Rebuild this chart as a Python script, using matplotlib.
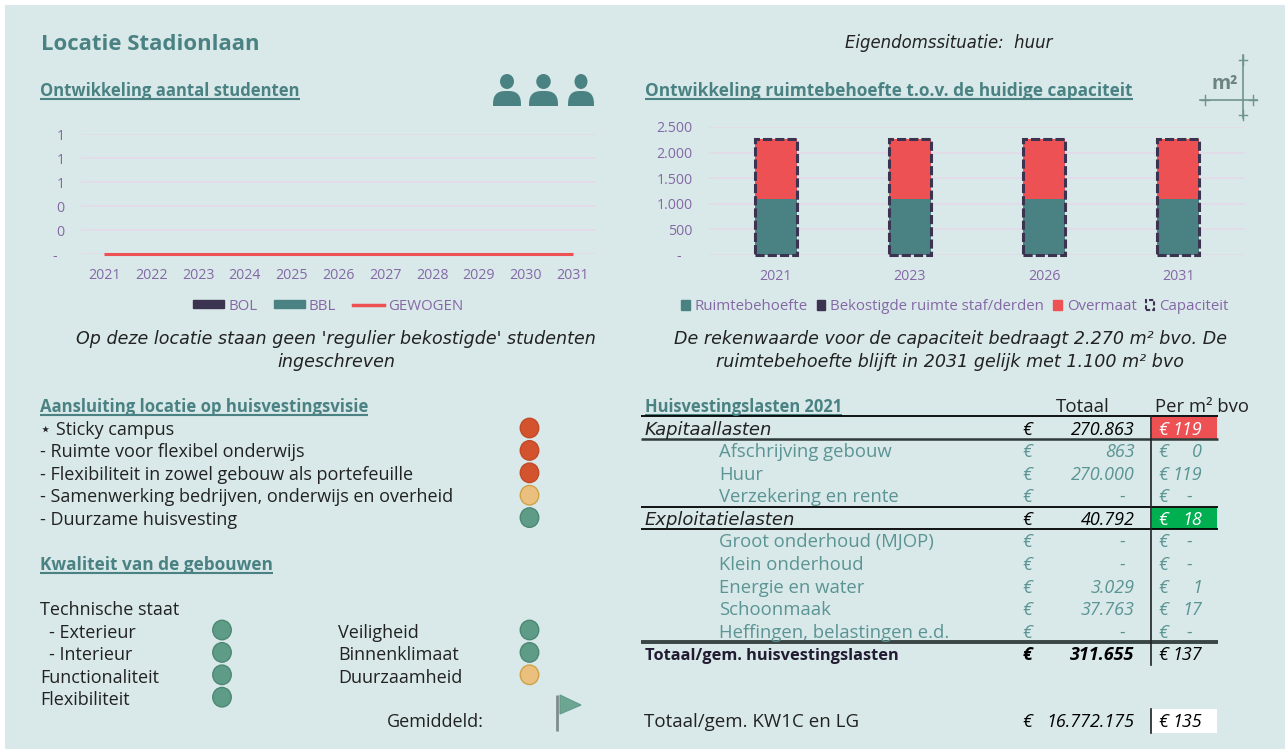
import numpy as np
import matplotlib
matplotlib.use("Agg")
import matplotlib.pyplot as plt
from matplotlib.patches import Rectangle, Ellipse, Polygon, Patch
from matplotlib.lines import Line2D

plt.rcParams['font.family'] = ['Open Sans', 'DejaVu Sans']

# data
jaren = [2021, 2022, 2023, 2024, 2025, 2026, 2027, 2028, 2029, 2030, 2031]
bol = [0, 0, 0, 0, 0, 0, 0, 0, 0, 0, 0]
bbl = [0, 0, 0, 0, 0, 0, 0, 0, 0, 0, 0]
gewogen = [0, 0, 0, 0, 0, 0, 0, 0, 0, 0, 0]
studenten_ticks = [0, 0.2, 0.4, 0.6, 0.8, 1.0]
studenten_labels = ["-  ", "0", "0", "1", "1", "1"]

ruimte_jaren = ["2021", "2023", "2026", "2031"]
ruimtebehoefte = [1100, 1100, 1100, 1100]
bekostigd = [0, 0, 0, 0]
overmaat = [1170, 1170, 1170, 1170]
capaciteit = [2270, 2270, 2270, 2270]
ruimte_ticks = [0, 500, 1000, 1500, 2000, 2500]
ruimte_labels = ["-   ", "500", "1.000", "1.500", "2.000", "2.500"]

visie = ["\u22c6 Sticky campus", "- Ruimte voor flexibel onderwijs",
         "- Flexibiliteit in zowel gebouw als portefeuille",
         "- Samenwerking bedrijven, onderwijs en overheid", "- Duurzame huisvesting"]
visie_score = ["r", "r", "r", "o", "g"]
kwaliteit_links = ["- Exterieur", "- Interieur", "Functionaliteit", "Flexibiliteit"]
kwaliteit_links_score = ["g", "g", "g", "g"]
kwaliteit_rechts = ["Veiligheid", "Binnenklimaat", "Duurzaamheid"]
kwaliteit_rechts_score = ["g", "g", "o"]

lasten_labels = ["Kapitaallasten", "Afschrijving gebouw", "Huur", "Verzekering en rente",
                 "Exploitatielasten", "Groot onderhoud (MJOP)", "Klein onderhoud",
                 "Energie en water", "Schoonmaak", "Heffingen, belastingen e.d.",
                 "Totaal/gem. huisvestingslasten"]
lasten_totaal = ["270.863", "863", "270.000", "-  ", "40.792", "-  ", "-  ", "3.029", "37.763", "-  ", "311.655"]
lasten_m2 = ["119", "0", "119", "-  ", "18", "-  ", "-  ", "1", "17", "-  ", "137"]
lasten_soort = ["kop", "sub", "sub", "sub", "kop", "sub", "sub", "sub", "sub", "sub", "som"]
lasten_y = [429, 451, 474, 496, 519, 541, 564, 587, 609, 632, 654]

TEAL = "#4A8284"
PAARS = "#8468A6"
DONKER = "#3B3350"
ROOD = "#EE5154"
GRID = "#E5DAE9"
SCORE = {"r": ("#D4532F", "#C24A28"), "o": ("#EBC07F", "#CFA245"), "g": ("#5F9C88", "#4C8874")}
ITAL = ['DejaVu Sans']

W, H = 1285, 749
fig = plt.figure(figsize=(W / 100, H / 100), dpi=100, facecolor="white")
bg = fig.add_axes([0, 0, 1, 1])
bg.set_xlim(0, W)
bg.set_ylim(H, 0)
bg.axis("off")
bg.add_patch(Rectangle((5, 5), W - 5, H - 5, fc="#D9E8E8", ec="none"))


def px_axes(x0, y0, x1, y1, ypad):
    ax = fig.add_axes([x0 / W, 1 - y1 / H, (x1 - x0) / W, (y1 - y0) / H])
    ax.patch.set_alpha(0)
    for s in ax.spines.values():
        s.set_visible(False)
    ax.grid(True, axis="y", color=GRID, lw=1.2)
    ax.set_axisbelow(True)
    ax.tick_params(length=0, labelsize=10.2, labelcolor=PAARS)
    ax.tick_params(axis="x", pad=10)
    ax.tick_params(axis="y", pad=ypad)
    return ax


def kop(x, y, s, size=12.1):
    t = bg.text(x, y + 6, s, color=TEAL, fontsize=size, fontweight="bold", va="baseline", ha="left")
    bb = t.get_window_extent(fig.canvas.get_renderer())
    bg.plot([bb.x0, bb.x1], [y + 8.5, y + 8.5], color=TEAL, lw=1.5, solid_capstyle="butt")


def txt(x, y, s, size=13, color="#222222", ha="left", **kw):
    bg.text(x, y + 6, s, fontsize=size, color=color, ha=ha, va="baseline", **kw)


def bol_score(x, y, c):
    fc, ec = SCORE[c]
    bg.add_patch(Ellipse((x, y), 18.5, 19.5, fc=fc, ec=ec, lw=1))


def persoon(x0, x1):
    mid = (x0 + x1) / 2
    bg.add_patch(Ellipse((mid, 81.5), (x1 - x0) * 0.5, 15, fc=TEAL, ec="none"))
    t = np.linspace(0, np.pi, 40)
    px = mid + (x1 - x0) / 2 * np.sign(np.cos(t)) * np.abs(np.cos(t)) ** 0.7
    py = 106 - 15 * np.sin(t) ** 0.7
    bg.add_patch(Polygon(list(zip(px, py)), fc=TEAL, ec="none"))


# koppen
txt(41, 44, "Locatie Stadionlaan", size=15.9, color=TEAL, fontweight="bold")
txt(949, 42, "Eigendomssituatie:  huur", size=11.9, ha="center", style="italic", family=ITAL)
kop(40, 90, "Ontwikkeling aantal studenten", 12)
kop(645, 90, "Ontwikkeling ruimtebehoefte t.o.v. de huidige capaciteit", 12.4)
kop(40, 406, "Aansluiting locatie op huisvestingsvisie")
kop(40, 564, "Kwaliteit van de gebouwen", 12.4)
kop(645, 406, "Huisvestingslasten 2021", 11.9)

for a, b in [(493, 521), (529, 558), (568, 594)]:
    persoon(a, b)

# m2 icoon
ICON = "#71938E"
bg.plot([1242.5, 1242.5], [55, 118], color=ICON, lw=1.2)
bg.plot([1200, 1257], [100, 100], color=ICON, lw=1.2)
for cx, cy in [(1242.5, 60), (1242.5, 115), (1205, 100), (1253, 100)]:
    bg.plot([cx - 4, cx + 4], [cy, cy], color=ICON, lw=1)
    bg.plot([cx, cx], [cy - 5, cy + 5], color=ICON, lw=1)
txt(1225, 83, "m\u00b2", size=14, color="#6C8480", ha="center", fontweight="bold")

# grafiek studenten
ax1 = px_axes(81, 134, 596, 254, 12)
x = np.arange(len(jaren))
ax1.bar(x - 0.2, bol, 0.4, color=DONKER, label="BOL")
ax1.bar(x + 0.2, bbl, 0.4, color=TEAL, label="BBL")
ax1.plot(x, gewogen, color=ROOD, lw=2.2, label="GEWOGEN", clip_on=False, zorder=5, solid_capstyle="butt")
ax1.set_xlim(-0.5, len(jaren) - 0.5)
ax1.set_ylim(0, 1)
ax1.set_yticks(studenten_ticks, studenten_labels)
ax1.set_xticks(x, [str(j) for j in jaren])
h1 = [Patch(color=DONKER), Patch(color=TEAL), Line2D([0], [0], color=ROOD, lw=2.5)]
ax1.legend(h1, ["BOL", "BBL", "GEWOGEN"], ncol=3, frameon=False, fontsize=10.8, labelcolor=PAARS,
           loc="center", bbox_to_anchor=(328 / W, 1 - 306 / H), bbox_transform=fig.transFigure,
           handlelength=2.1, handleheight=0.5, handletextpad=0.25, columnspacing=1.1)

txt(336, 338, "Op deze locatie staan geen 'regulier bekostigde' studenten", size=12.6, ha="center", style="italic", family=ITAL)
txt(336, 361, "ingeschreven", size=12.6, ha="center", style="italic", family=ITAL)

# grafiek ruimte
ax2 = px_axes(709, 127, 1245, 255, 12)
x2 = np.arange(len(ruimte_jaren))
br = 0.32
ax2.bar(x2, ruimtebehoefte, br, color=TEAL)
ax2.bar(x2, bekostigd, br, bottom=ruimtebehoefte, color=DONKER)
ax2.bar(x2, overmaat, br, bottom=np.array(ruimtebehoefte) + np.array(bekostigd), color=ROOD)
ax2.bar(x2, capaciteit, br, fc="none", ec=DONKER, lw=2.2, ls=(0, (3, 1)), clip_on=False)
ax2.set_xlim(-0.5, len(ruimte_jaren) - 0.5)
ax2.set_ylim(0, 2500)
ax2.set_yticks(ruimte_ticks, ruimte_labels)
ax2.set_xticks(x2, ruimte_jaren)
h2 = [Patch(color=TEAL), Patch(color=DONKER), Patch(color=ROOD),
      Patch(fc="none", ec=DONKER, lw=1.5, ls=(0, (2, 1)))]
ax2.legend(h2, ["Ruimtebehoefte", "Bekostigde ruimte staf/derden", "Overmaat", "Capaciteit"],
           ncol=4, frameon=False, fontsize=10.8, labelcolor=PAARS,
           loc="center", bbox_to_anchor=(955 / W, 1 - 307 / H), bbox_transform=fig.transFigure,
           handlelength=0.55, handleheight=0.6, handletextpad=0.35, columnspacing=0.6)

txt(950, 338, "De rekenwaarde voor de capaciteit bedraagt 2.270 m\u00b2 bvo. De", size=12.6, ha="center", style="italic", family=ITAL)
txt(950, 361, "ruimtebehoefte blijft in 2031 gelijk met 1.100 m\u00b2 bvo", size=12.6, ha="center", style="italic", family=ITAL)

# aansluiting
for i, (s, c) in enumerate(zip(visie, visie_score)):
    y = 429 + i * 22.4
    txt(40, y, s)
    bol_score(529.5, y - 1, c)

# kwaliteit
txt(40, 609, "Technische staat")
links_x = [49, 49, 40, 40]
for i, (s, c) in enumerate(zip(kwaliteit_links, kwaliteit_links_score)):
    y = 632 + i * 22.4
    txt(links_x[i], y, s)
    bol_score(222, y - 2, c)
for i, (s, c) in enumerate(zip(kwaliteit_rechts, kwaliteit_rechts_score)):
    y = 632 + i * 22.4
    txt(338, y, s)
    bol_score(529.5, y - 2, c)
txt(387, 721, "Gemiddeld:")
bg.plot([556.5, 556.5], [695, 731], color="#7F8C8C", lw=2, solid_capstyle="butt")
bg.add_patch(Polygon([(560, 695), (560, 714), (581, 705)], fc="#6DA593", ec="#5F9C88", lw=0.8))

# tabel
bg.add_patch(Rectangle((1152, 417), 65, 21.5, fc=ROOD, ec="none"))
bg.add_patch(Rectangle((1152, 507.5), 65, 21, fc="#00B050", ec="none"))
bg.add_patch(Rectangle((1152, 709), 65, 23.5, fc="white", ec="none"))
txt(1083, 406, "Totaal", size=13.5, ha="center")
txt(1155, 406, "Per m\u00b2 bvo", size=13.3)
for y, lw, col in [(416, 1.3, "black"), (439, 1.8, "#2F3A3A"), (506.5, 1.3, "black"),
                   (529, 1.3, "black"), (642, 2.8, "#3A4545")]:
    bg.plot([641, 1218], [y, y], color=col, lw=lw, solid_capstyle="butt")
bg.plot([1151, 1151], [416, 665], color="#222222", lw=1.2)
bg.plot([1151, 1151], [709, 732.5], color="#222222", lw=1.2)

SUB = "#5B9494"
for s, tot, m2, soort, y in zip(lasten_labels, lasten_totaal, lasten_m2, lasten_soort, lasten_y):
    if soort == "sub":
        txt(719, y, s, size=13.3, color=SUB)
    elif soort == "kop":
        txt(645, y, s, color="#222222", style="italic", family=ITAL)
    else:
        txt(645, y, s, size=11.8, color="#221C33", fontweight="bold")
    w = "bold" if soort == "som" else "normal"
    num = "black" if soort != "sub" else SUB
    txt(1022.5, y, "\u20ac", color=num, style="italic", fontweight=w)
    txt(1134.5, y, tot, color=num, ha="right", style="italic", fontweight=w)
    mcol = "white" if soort == "kop" else ("black" if soort == "som" else SUB)
    txt(1158, y, "\u20ac", color=mcol, style="italic")
    txt(1202, y, m2, color=mcol, ha="right", style="italic")

txt(644, 721, "Totaal/gem. KW1C en LG", size=13.5)
txt(1022.5, 721, "\u20ac", color="black", style="italic")
txt(1134.5, 721, "16.772.175", color="black", ha="right", style="italic")
txt(1158, 721, "\u20ac", color="black", style="italic")
txt(1202, 721, "135", color="black", ha="right", style="italic")

fig.savefig("out.png", dpi=100, facecolor="white")
